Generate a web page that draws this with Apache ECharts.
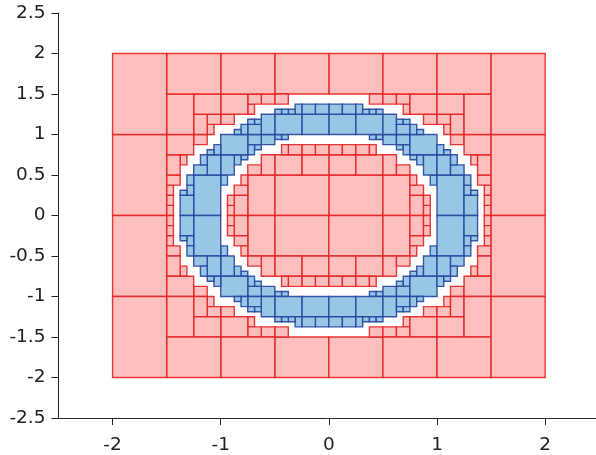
<!DOCTYPE html>
<html>
<head>
<meta charset="utf-8">
<script src="https://cdn.jsdelivr.net/npm/echarts@6/dist/echarts.min.js"></script>
<style>
  html, body { margin: 0; padding: 0; background: #fff; }
  #chart { width: 596px; height: 455px; }
</style>
</head>
<body>
<div id="chart"></div>
<script>
// Box edges are given in sixteenths of a unit: [x1, x2, y1, y2]
const UNIT = 1 / 16;

// Tick values
const xTicks = [-2, -1, 0, 1, 2];
const yTicks = [-2.5, -2, -1.5, -1, -0.5, 0, 0.5, 1, 1.5, 2, 2.5];

// Outside (red) boxes, by quadrant
const redTopRight = [
  [0,8,0,8],[0,4,8,12],[0,2,12,14],[2,4,12,14],[4,8,8,12],[4,6,12,14],[6,7,12,14],
  [8,12,0,8],[12,14,0,4],[14,15,0,2],[14,15,2,4],[12,14,4,6],[12,13,6,8],[8,10,8,12],[10,12,8,10],
  [0,8,24,32],[6,8,22,24],[8,10,22,24],[11,12,20,22],[10,12,22,24],[14,16,18,20],[12,16,20,24],[8,16,24,32],
  [23,24,0,2],[23,24,2,4],[23,24,4,6],[22,24,6,8],[18,20,14,16],[21,22,10,12],[22,24,8,12],[20,24,12,16],[24,32,0,16],
  [17,18,16,18],[16,18,18,20],[18,20,16,20],[16,20,20,24],[20,24,16,24],[16,24,24,32],[24,32,16,32]
];
const redTopLeft = [
  [-8,0,0,8],[-4,0,8,12],[-2,0,12,14],[-4,-2,12,14],[-8,-4,8,12],[-6,-4,12,14],[-7,-6,12,14],
  [-12,-8,0,8],[-14,-12,0,4],[-15,-14,0,2],[-15,-14,2,4],[-14,-12,4,6],[-13,-12,6,8],[-10,-8,8,12],[-12,-10,8,10],
  [-8,0,24,32],[-8,-6,22,24],[-10,-8,22,24],[-12,-11,20,22],[-12,-10,22,24],[-16,-14,18,20],[-16,-12,20,24],[-16,-8,24,32],
  [-24,-23,0,2],[-24,-23,2,4],[-24,-23,4,6],[-24,-22,6,8],[-20,-18,14,16],[-22,-21,10,12],[-24,-22,8,12],[-24,-20,12,16],[-32,-24,0,16],
  [-18,-17,16,18],[-18,-16,18,20],[-20,-18,16,20],[-20,-16,20,24],[-24,-20,16,24],[-24,-16,24,32],[-32,-24,16,32]
];
const redBottomLeft = [
  [-8,0,-8,0],[-4,0,-12,-8],[-2,0,-14,-12],[-4,-2,-14,-12],[-8,-4,-12,-8],[-6,-4,-14,-12],[-7,-6,-14,-12],
  [-12,-8,-8,0],[-14,-12,-4,0],[-15,-14,-2,0],[-15,-14,-4,-2],[-14,-12,-6,-4],[-13,-12,-8,-6],[-10,-8,-12,-8],[-12,-10,-10,-8],
  [-8,0,-32,-24],[-8,-6,-24,-22],[-10,-8,-24,-22],[-12,-11,-22,-20],[-12,-10,-24,-22],[-16,-14,-20,-18],[-16,-12,-24,-20],[-16,-8,-32,-24],
  [-24,-23,-2,0],[-24,-23,-4,-2],[-24,-23,-6,-4],[-24,-22,-8,-6],[-20,-18,-16,-14],[-22,-21,-12,-10],[-24,-22,-12,-8],[-24,-20,-16,-12],[-32,-24,-16,0],
  [-18,-17,-18,-16],[-18,-16,-20,-18],[-20,-18,-20,-16],[-20,-16,-24,-20],[-24,-20,-24,-16],[-24,-16,-32,-24],[-32,-24,-32,-16]
];
const redBottomRight = [
  [0,8,-8,0],[0,4,-12,-8],[0,2,-14,-12],[2,4,-14,-12],[4,8,-12,-8],[4,6,-14,-12],[6,7,-14,-12],
  [8,12,-8,0],[12,14,-4,0],[14,15,-2,0],[14,15,-4,-2],[12,14,-6,-4],[12,13,-8,-6],[8,10,-12,-8],[10,12,-10,-8],
  [0,8,-32,-24],[6,8,-24,-22],[8,10,-24,-22],[11,12,-22,-20],[10,12,-24,-22],[14,16,-20,-18],[12,16,-24,-20],[8,16,-32,-24],
  [23,24,-2,0],[23,24,-4,-2],[23,24,-6,-4],[22,24,-8,-6],[18,20,-16,-14],[21,22,-12,-10],[22,24,-12,-8],[20,24,-16,-12],[24,32,-16,0],
  [17,18,-18,-16],[16,18,-20,-18],[18,20,-20,-16],[16,20,-24,-20],[20,24,-24,-16],[16,24,-32,-24],[24,32,-32,-16]
];

// Inside (blue) boxes, by quadrant
const blueTopRight = [
  [6,7,15,16],[7,8,15,16],[15,16,6,8],[8,10,14,16],[10,11,13,14],[11,12,12,14],[10,12,14,16],[12,13,11,12],[13,14,10,12],[14,16,8,12],[12,16,12,16],
  [16,20,0,8],[20,22,0,4],[20,21,4,6],[21,22,4,5],[20,21,6,8],[16,18,8,12],[18,20,8,10],[18,19,10,12],[16,17,12,14],[17,18,12,13],
  [0,4,16,20],[0,2,20,22],[2,4,20,22],[4,8,16,20],[4,5,20,22],[5,6,20,21],[6,7,20,21],[7,8,20,21],[8,10,16,20],[10,12,16,18],[10,11,18,19],[11,12,18,19],[12,13,16,18],[13,14,16,17]
];
const blueTopLeft = [
  [-7,-6,15,16],[-8,-7,15,16],[-16,-15,6,8],[-10,-8,14,16],[-11,-10,13,14],[-12,-11,12,14],[-12,-10,14,16],[-13,-12,11,12],[-14,-13,10,12],[-16,-14,8,12],[-16,-12,12,16],
  [-20,-16,0,8],[-22,-20,0,4],[-21,-20,4,6],[-22,-21,4,5],[-21,-20,6,8],[-18,-16,8,12],[-20,-18,8,10],[-19,-18,10,12],[-17,-16,12,14],[-18,-17,12,13],
  [-4,0,16,20],[-2,0,20,22],[-4,-2,20,22],[-8,-4,16,20],[-5,-4,20,22],[-6,-5,20,21],[-7,-6,20,21],[-8,-7,20,21],[-10,-8,16,20],[-12,-10,16,18],[-11,-10,18,19],[-12,-11,18,19],[-13,-12,16,18],[-14,-13,16,17]
];
const blueBottomLeft = [
  [-7,-6,-16,-15],[-8,-7,-16,-15],[-16,-15,-8,-6],[-10,-8,-16,-14],[-11,-10,-14,-13],[-12,-11,-14,-12],[-12,-10,-16,-14],[-13,-12,-12,-11],[-14,-13,-12,-10],[-16,-14,-12,-8],[-16,-12,-16,-12],
  [-20,-16,-8,0],[-22,-20,-4,0],[-21,-20,-6,-4],[-22,-21,-5,-4],[-21,-20,-8,-6],[-18,-16,-12,-8],[-20,-18,-10,-8],[-19,-18,-12,-10],[-17,-16,-14,-12],[-18,-17,-13,-12],
  [-4,0,-20,-16],[-2,0,-22,-20],[-4,-2,-22,-20],[-8,-4,-20,-16],[-5,-4,-22,-20],[-6,-5,-21,-20],[-7,-6,-21,-20],[-8,-7,-21,-20],[-10,-8,-20,-16],[-12,-10,-18,-16],[-11,-10,-19,-18],[-12,-11,-19,-18],[-13,-12,-18,-16],[-14,-13,-17,-16]
];
const blueBottomRight = [
  [6,7,-16,-15],[7,8,-16,-15],[15,16,-8,-6],[8,10,-16,-14],[10,11,-14,-13],[11,12,-14,-12],[10,12,-16,-14],[12,13,-12,-11],[13,14,-12,-10],[14,16,-12,-8],[12,16,-16,-12],
  [16,20,-8,0],[20,22,-4,0],[20,21,-6,-4],[21,22,-5,-4],[20,21,-8,-6],[16,18,-12,-8],[18,20,-10,-8],[18,19,-12,-10],[16,17,-14,-12],[17,18,-13,-12],
  [0,4,-20,-16],[0,2,-22,-20],[2,4,-22,-20],[4,8,-20,-16],[4,5,-22,-20],[5,6,-21,-20],[6,7,-21,-20],[7,8,-21,-20],[8,10,-20,-16],[10,12,-18,-16],[10,11,-19,-18],[11,12,-19,-18],[12,13,-18,-16],[13,14,-17,-16]
];

const redBoxes = [].concat(redTopRight, redTopLeft, redBottomLeft, redBottomRight);
const blueBoxes = [].concat(blueTopRight, blueTopLeft, blueBottomLeft, blueBottomRight);

function toData(boxes) {
  return boxes.map(b => b.map(v => v * UNIT));
}

function boxRenderer(fill, stroke) {
  return function (params, api) {
    const x1 = api.value(0), x2 = api.value(1), y1 = api.value(2), y2 = api.value(3);
    const pTL = api.coord([x1, y2]);
    const pBR = api.coord([x2, y1]);
    return {
      type: 'rect',
      shape: { x: pTL[0], y: pTL[1], width: pBR[0] - pTL[0], height: pBR[1] - pTL[1] },
      style: { fill: fill, stroke: stroke, lineWidth: 1.4 }
    };
  };
}

const FONT = 'DejaVu Sans';
const chart = echarts.init(document.getElementById('chart'), null, { renderer: 'canvas' });
chart.setOption({
  animation: false,
  backgroundColor: '#ffffff',
  grid: { left: 58.5, right: 0, top: 13, bottom: 35.5, containLabel: false },
  xAxis: {
    type: 'value', min: -2.5, max: 2.47,
    axisLine: { show: true, onZero: false, lineStyle: { color: '#222', width: 1 } },
    axisTick: { show: true, length: 7, customValues: xTicks, lineStyle: { color: '#222' } },
    splitLine: { show: false },
    axisLabel: {
      margin: 18, fontSize: 18.5, fontFamily: FONT, color: '#222',
      customValues: xTicks,
      formatter: v => String(v)
    }
  },
  yAxis: {
    type: 'value', min: -2.5, max: 2.5, interval: 0.5,
    axisLine: { show: true, onZero: false, lineStyle: { color: '#222', width: 1 } },
    axisTick: { show: true, length: 7, lineStyle: { color: '#222' } },
    splitLine: { show: false },
    axisLabel: {
      margin: 13, fontSize: 18.5, fontFamily: FONT, color: '#222',
      formatter: v => (yTicks.indexOf(v) >= 0 ? String(v) : '')
    }
  },
  series: [
    {
      type: 'custom', name: 'outside', coordinateSystem: 'cartesian2d',
      renderItem: boxRenderer('#ffbfbf', 'rgba(228,35,35,0.9)'),
      encode: { x: [0, 1], y: [2, 3] },
      data: toData(redBoxes), z: 2
    },
    {
      type: 'custom', name: 'inside', coordinateSystem: 'cartesian2d',
      renderItem: boxRenderer('#98c7e6', 'rgba(40,70,160,0.9)'),
      encode: { x: [0, 1], y: [2, 3] },
      data: toData(blueBoxes), z: 3
    }
  ]
});
</script>
</body>
</html>
